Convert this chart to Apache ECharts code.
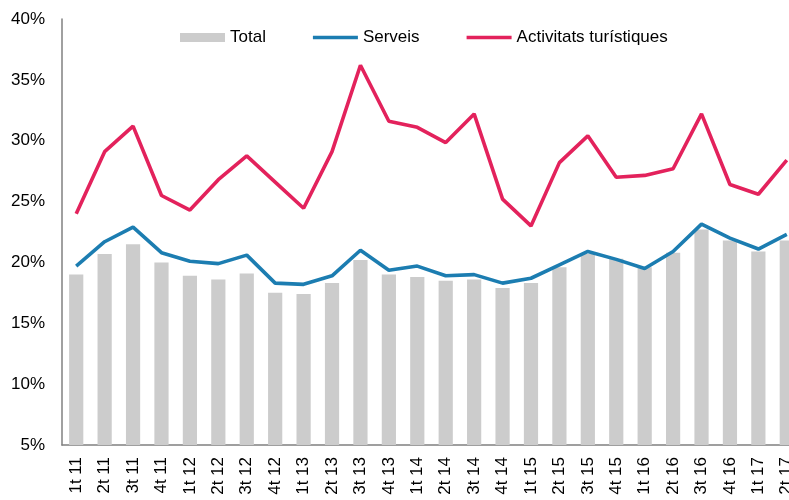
<!DOCTYPE html>
<html>
<head>
<meta charset="utf-8">
<script src="https://cdn.jsdelivr.net/npm/echarts@6/dist/echarts.min.js"></script>
<style>
html,body{margin:0;padding:0;background:#fff;overflow:hidden;width:789px;height:500px;}
#chart{width:801px;height:500px;}
</style>
</head>
<body>
<div id="chart"></div>
<script>
const categories = ["1t 11","2t 11","3t 11","4t 11","1t 12","2t 12","3t 12","4t 12","1t 13","2t 13","3t 13","4t 13","1t 14","2t 14","3t 14","4t 14","1t 15","2t 15","3t 15","4t 15","1t 16","2t 16","3t 16","4t 16","1t 17","2t 17"];
const total = [19.0,20.7,21.5,20.0,18.9,18.6,19.1,17.5,17.4,18.3,20.2,19.0,18.8,18.5,18.6,17.9,18.3,19.6,20.7,20.3,19.6,20.8,22.7,21.8,20.9,21.8];
const serveis = [19.7,21.7,22.9,20.8,20.1,19.9,20.6,18.3,18.2,18.9,21.0,19.35,19.7,18.9,19.0,18.3,18.7,19.8,20.9,20.25,19.5,20.9,23.15,22.0,21.1,22.3];
const turistiques = [24.0,29.1,31.2,25.5,24.3,26.8,28.75,26.6,24.45,29.1,36.2,31.6,31.1,29.85,32.2,25.2,23.0,28.2,30.4,27.0,27.15,27.7,32.2,26.4,25.6,28.4];
const yTicks = {min:5, max:40, interval:5};

const font = "'Liberation Sans', Arial, sans-serif";
const lineIcon = 'path://M0,0 L45,0 L45,3.6 L0,3.6 Z';
const chart = echarts.init(document.getElementById('chart'), null, {renderer:'canvas'});
chart.setOption({
  animation:false,
  backgroundColor:'#ffffff',
  textStyle:{fontFamily:font},
  legend:{
    left:175, top:24,
    itemWidth:45, itemHeight:9, itemGap:47,
    textStyle:{fontFamily:font, fontSize:17, color:'#000'},
    data:[
      {name:'Total', icon:'rect'},
      {name:'Serveis', icon:lineIcon},
      {name:'Activitats turístiques', icon:lineIcon}
    ]
  },
  grid:{left:62, right:0, top:19, bottom:55},
  xAxis:{
    type:'category',
    data:categories,
    axisLine:{lineStyle:{color:'#808080', width:1.5}},
    axisTick:{show:false},
    axisLabel:{rotate:90, fontFamily:font, fontSize:17, color:'#000', margin:12, interval:0}
  },
  yAxis:{
    type:'value',
    min:yTicks.min, max:yTicks.max, interval:yTicks.interval,
    axisLine:{show:true, lineStyle:{color:'#808080', width:1.5}},
    axisTick:{show:false},
    splitLine:{show:false},
    axisLabel:{formatter:'{value}%', fontFamily:font, fontSize:17, color:'#000', margin:17}
  },
  series:[
    {name:'Total', type:'bar', data:total, barCategoryGap:'50%', itemStyle:{color:'#cccccc'}, z:1},
    {name:'Serveis', type:'line', data:serveis, showSymbol:false, symbol:'none', lineStyle:{color:'#1c7db1', width:3.6}, itemStyle:{color:'#1c7db1'}, z:3},
    {name:'Activitats turístiques', type:'line', data:turistiques, showSymbol:false, symbol:'none', lineStyle:{color:'#e3225c', width:3.6}, itemStyle:{color:'#e3225c'}, z:4}
  ]
});
</script>
</body>
</html>
